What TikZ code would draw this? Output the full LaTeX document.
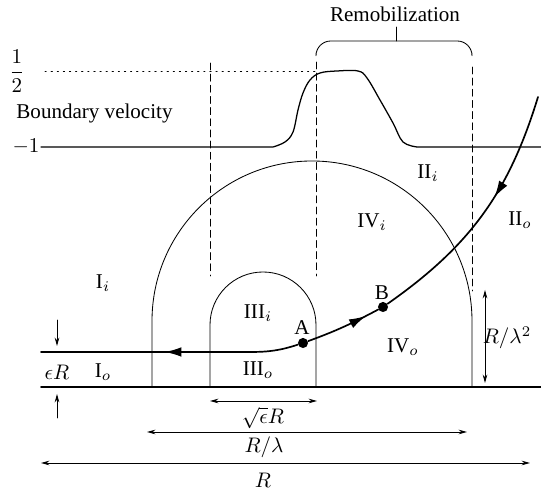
\documentclass[tikz,border=0pt]{standalone}
\usepackage{fontspec}
\setmainfont{Liberation Serif}
\usetikzlibrary{arrows.meta,decorations.markings}
\tikzset{
	flowarrow/.style={decoration={markings, mark=at position #1 with {\arrow{Latex[length=8pt,width=4.6pt]}}}, postaction={decorate}},
	dot/.style={circle, fill, inner sep=0pt, minimum size=4.8pt},
	vdash/.style={dash pattern=on 3.3pt off 2pt, thin},
	dimline/.style={thin},
}
\begin{document}
\begin{tikzpicture}[>={Stealth[length=4pt,width=2.2pt]}, line join=round, line cap=round, x=0.475pt, y=0.475pt]
		\useasboundingbox (0,0) rectangle (541,490);
		% Boundary velocity
		\begin{scope}
			\node (half) at (17,419) {$\displaystyle\frac{1}{2}$};
			\node[anchor=west] (bv) at (9,377) {Boundary velocity};
			\node (minus) at (26,343) {$-1$};
			\draw[thin, dash pattern=on 0.6pt off 2.3pt] (45,419) -- (316,419);
			\draw[semithick] (41,343) -- (273,343)
				plot[smooth, tension=0.6] coordinates {(273,343) (285,348) (293,358) (298,380) (303,397) (310,410) (320,417) (337,419) (358,419) (367,412) (380,390) (393,367) (403,348) (417,343)}
				-- (541,343);
			\draw[thin, rounded corners=7pt] (316,437) |- (396,449) -| (472,437);
			\draw[thin] (396,449) -- (396,463);
			\node (remob) at (395,476) {Remobilization};
			\draw[vdash] (210,427) -- (210,214);
			\draw[vdash] (316,428) -- (316,214);
			\draw[vdash] (472,423) -- (472,199);
		\end{scope}
		% Regions
		\begin{scope}
			\draw[thick] (41,103) -- (541,103);
			\draw[thin] (152,103) -- (152,169) arc[start angle=180, end angle=0, radius=160] -- (472,103);
			\draw[thin] (210,103) -- (210,165) arc[start angle=180, end angle=0, radius=53] -- (316,103);
			\node (IIi) at (428,317) {II$_i$};
			\node (IVi) at (372,268) {IV$_i$};
			\node (IIo) at (520,270) {II$_o$};
			\node (Ii) at (103,207) {I$_i$};
			\node (Io) at (103,118) {I$_o$};
			\node (IIIi) at (258,177) {III$_i$};
			\node (IIIo) at (258,120) {III$_o$};
			\node (IVo) at (403,143) {IV$_o$};
		\end{scope}
		% Trajectory
		\begin{scope}
			\coordinate (inflow) at (538,393);
			\node[dot] (B) at (383,183) {};
			\node[dot] (A) at (303,147) {};
			\coordinate (bend) at (250,138);
			\coordinate (outflow) at (41,138);
			\node (Alab) at (302,162) {A};
			\node (Blab) at (382,197) {B};
			\draw[thick, flowarrow=0.42] (inflow) to[out=-107, in=35] (B);
			\draw[thick, flowarrow=0.82] (A) to[out=20, in=-152] (B);
			\draw[thick, flowarrow=0.52] (A) to[out=-162, in=0] (bend) -- (outflow);
		\end{scope}
		% Scales
		\begin{scope}
			\draw[->, dimline] (57,170) -- (57,144);
			\draw[->, dimline] (57,72) -- (57,96);
			\node (epsR) at (57,118) {$\epsilon R$};
			\draw[<->, dimline] (485,200) -- (485,107);
			\node (Rl2) at (507,152) {$R/\lambda^2$};
			\draw[<->, dimline] (210,89) -- (317,89);
			\node (sqrtR) at (263,72) {$\sqrt{\epsilon}R$};
			\draw[<->, dimline] (147,58) -- (467,58);
			\node (Rl) at (264,43) {$R/\lambda$};
			\draw[<->, dimline] (41,27) -- (530,27);
			\node (Rtot) at (263,10) {$R$};
		\end{scope}
	\end{tikzpicture}
\end{document}
